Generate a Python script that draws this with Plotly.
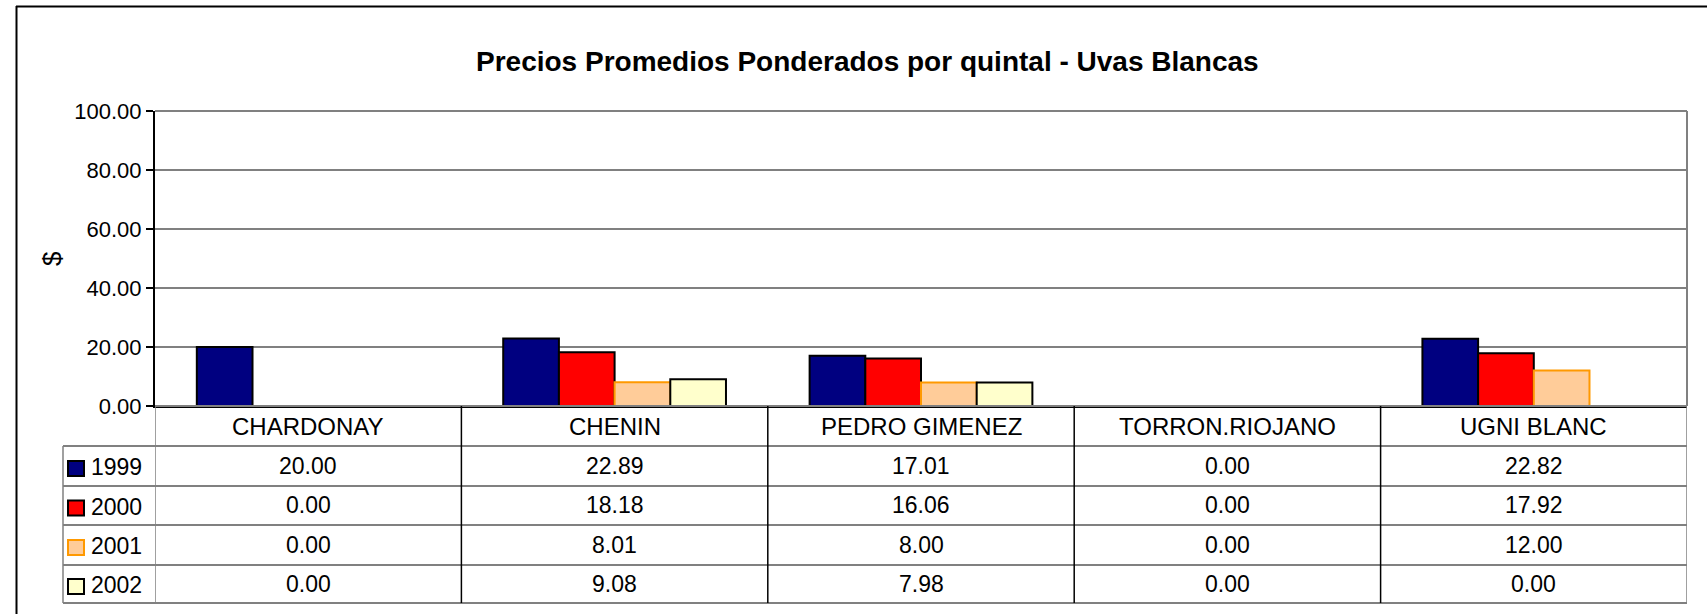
import plotly.graph_objects as go

categories = ["CHARDONAY", "CHENIN", "PEDRO GIMENEZ", "TORRON.RIOJANO", "UGNI BLANC"]
years = ["1999", "2000", "2001", "2002"]
v1999 = [20.00, 22.89, 17.01, 0.00, 22.82]
v2000 = [0.00, 18.18, 16.06, 0.00, 17.92]
v2001 = [0.00, 8.01, 8.00, 0.00, 12.00]
v2002 = [0.00, 9.08, 7.98, 0.00, 0.00]
series = [v1999, v2000, v2001, v2002]
fills = ["#000080", "#FF0000", "#FFCC99", "#FFFFCC"]
edges = ["#000000", "#000000", "#FF9900", "#000000"]
yticks = [0, 20, 40, 60, 80, 100]

W, H = 1707, 614
# plot area in page pixels
L, R, T, B = 155, 1687, 111, 406
FONT = "Liberation Sans, Arial, sans-serif"


def px_x(px):
    return (px - L) / (R - L)


def px_y(py):
    return (B - py) / (B - T)


fig = go.Figure()
xs = list(range(len(categories)))
for yr, vals, fc, ec in zip(years, series, fills, edges):
    fig.add_trace(go.Bar(
        x=xs, y=vals, name=yr,
        marker=dict(color=fc, line=dict(color=ec, width=2)),
        hoverinfo="y+name",
    ))

shapes = []
annotations = []

# outer chart border (top and left)
shapes.append(dict(type="line", xref="paper", yref="paper",
                   x0=px_x(16), x1=px_x(1720), y0=px_y(6.5), y1=px_y(6.5),
                   line=dict(color="#000000", width=2)))
shapes.append(dict(type="line", xref="paper", yref="paper",
                   x0=px_x(16.5), x1=px_x(16.5), y0=px_y(6), y1=px_y(630),
                   line=dict(color="#000000", width=2)))
# plot area border top & right (gray)
shapes.append(dict(type="line", xref="paper", yref="paper",
                   x0=0, x1=1, y0=1, y1=1, line=dict(color="#808080", width=2)))
shapes.append(dict(type="line", xref="paper", yref="paper",
                   x0=1, x1=1, y0=0, y1=1, line=dict(color="#808080", width=2)))

# data table
row_px = [406, 446, 486, 525, 565, 603]
tbl_left = 63
for i, rp in enumerate(row_px):
    x0 = px_x(tbl_left) if i >= 1 else 0
    shapes.append(dict(type="line", xref="paper", yref="paper",
                       x0=x0, x1=1, y0=px_y(rp), y1=px_y(rp),
                       line=dict(color="#808080", width=2)))
for k in range(len(categories) + 1):
    shapes.append(dict(type="line", xref="x", yref="paper",
                       x0=k - 0.5, x1=k - 0.5, y0=px_y(406), y1=px_y(603),
                       line=dict(color="#000000" if 0 < k < len(categories) else "#808080", width=1.5)))
shapes.append(dict(type="line", xref="paper", yref="paper",
                   x0=px_x(tbl_left), x1=px_x(tbl_left), y0=px_y(446), y1=px_y(603),
                   line=dict(color="#808080", width=1.5)))

# category labels
for k, c in enumerate(categories):
    annotations.append(dict(x=k, y=px_y((row_px[0] + row_px[1]) / 2), xref="x", yref="paper",
                            text=c, showarrow=False, xanchor="center", yanchor="middle",
                            font=dict(family=FONT, size=24, color="#000000")))
# rows
for r, (yr, vals, fc, ec) in enumerate(zip(years, series, fills, edges)):
    top, bot = row_px[r + 1], row_px[r + 2]
    cy = (top + bot) / 2
    shapes.append(dict(type="rect", xref="paper", yref="paper",
                       x0=px_x(68), x1=px_x(84), y0=px_y(cy + 10), y1=px_y(cy - 5),
                       fillcolor=fc, line=dict(color=ec, width=2)))
    annotations.append(dict(x=px_x(89), y=px_y(cy + 1), xref="paper", yref="paper",
                            text=yr, showarrow=False, xanchor="left", yanchor="middle",
                            font=dict(family=FONT, size=23, color="#000000")))
    for k, v in enumerate(vals):
        annotations.append(dict(x=k, y=px_y(cy), xref="x", yref="paper",
                                text=f"{v:.2f}", showarrow=False, xanchor="center", yanchor="middle",
                                font=dict(family=FONT, size=23, color="#000000")))

# y axis title
annotations.append(dict(x=px_x(52), y=px_y(259), xref="paper", yref="paper",
                        text="$", textangle=-90, showarrow=False,
                        xanchor="center", yanchor="middle",
                        font=dict(family=FONT, size=26, color="#000000")))
# title
annotations.append(dict(x=px_x(867), y=px_y(62), xref="paper", yref="paper",
                        text="<b>Precios Promedios Ponderados por quintal - Uvas Blancas</b>",
                        showarrow=False, xanchor="center", yanchor="middle",
                        font=dict(family=FONT, size=28, color="#000000")))

fig.update_layout(
    width=W, height=H,
    margin=dict(l=L, r=W - R, t=T, b=H - B, pad=0),
    paper_bgcolor="#FFFFFF", plot_bgcolor="#FFFFFF",
    barmode="group", bargap=0.273, bargroupgap=0,
    showlegend=False,
    shapes=shapes, annotations=annotations,
    font=dict(family=FONT, color="#000000"),
    xaxis=dict(range=[-0.5, len(categories) - 0.5], showticklabels=False, ticks="",
               showgrid=False, zeroline=False, showline=True, linecolor="#000000", linewidth=2,
               fixedrange=True),
    yaxis=dict(range=[0, 100], tickvals=yticks, ticktext=[f"{t:.2f}" for t in yticks],
               ticks="outside", ticklen=7, tickcolor="#000000", tickwidth=1.5,
               tickfont=dict(family=FONT, size=22, color="#000000"),
               showgrid=True, gridcolor="#808080", gridwidth=1.5,
               zeroline=False, showline=True, linecolor="#000000", linewidth=2,
               fixedrange=True),
)

fig.write_html("out.html", config={"displayModeBar": False},
               post_script="document.body.style.margin='0px';document.body.style.overflow='hidden';")
